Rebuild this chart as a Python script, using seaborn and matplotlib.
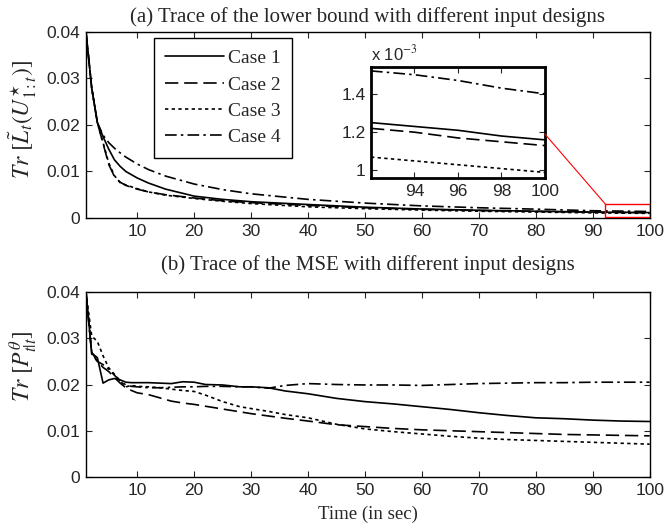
import numpy as np
import pandas as pd
import matplotlib
matplotlib.use("Agg")
import matplotlib.pyplot as plt
import seaborn as sns
from matplotlib.patches import Rectangle, ConnectionPatch

sns.set_style("ticks")
plt.rcParams['font.family'] = ['Liberation Sans', 'DejaVu Sans']
plt.rcParams['mathtext.fontset'] = 'stix'

cases = ['Case 1', 'Case 2', 'Case 3', 'Case 4']

# (a) lower bound trace
t_top = [1, 2, 3, 4, 5, 6, 7, 8, 10, 12, 15, 20, 25, 30, 40, 50, 60, 70, 80, 90, 92, 94, 96, 98, 100]
lb_case1 = [0.040, 0.028, 0.0205, 0.0175, 0.0148, 0.0125, 0.0111, 0.0100, 0.0086, 0.0075, 0.0062, 0.0047,
            0.0040, 0.0035, 0.0029, 0.00232, 0.00193, 0.00166, 0.00145, 0.00127, 0.00125, 0.00123, 0.00121,
            0.00118, 0.00116]
lb_case2 = [0.040, 0.028, 0.0205, 0.0160, 0.0115, 0.0089, 0.0077, 0.0070, 0.0062, 0.0056, 0.0050, 0.0043,
            0.0037, 0.0033, 0.0027, 0.0022, 0.00185, 0.0016, 0.00142, 0.00125, 0.00122, 0.00120, 0.00117,
            0.00115, 0.00113]
lb_case3 = [0.040, 0.028, 0.0205, 0.0162, 0.0118, 0.0091, 0.0076, 0.0071, 0.0063, 0.0056, 0.0049, 0.0042,
            0.0036, 0.0031, 0.0024, 0.0020, 0.0017, 0.00145, 0.00128, 0.00110, 0.00107, 0.00105, 0.00103,
            0.00101, 0.00099]
lb_case4 = [0.040, 0.028, 0.0205, 0.0178, 0.0162, 0.0150, 0.0140, 0.0131, 0.0116, 0.0104, 0.0090, 0.0073,
            0.0061, 0.0052, 0.0040, 0.0032, 0.0026, 0.0022, 0.0019, 0.00156, 0.00152, 0.00150, 0.00147,
            0.00143, 0.00140]

# (b) MSE trace
t_bot = [1, 2, 3, 4, 5, 6, 7, 8, 9, 10, 12, 14, 16, 18, 20, 22, 25, 28, 30, 33, 36, 40, 45, 50,
         55, 60, 65, 70, 75, 80, 85, 90, 95, 100]
mse_case1 = [0.040, 0.0268, 0.0258, 0.0203, 0.0210, 0.0213, 0.0210, 0.0205, 0.0204, 0.0204, 0.0204, 0.0203,
             0.0202, 0.0206, 0.0205, 0.0200, 0.0199, 0.0195, 0.0195, 0.0193, 0.0186, 0.0180, 0.0170, 0.0163,
             0.0158, 0.0152, 0.0146, 0.0139, 0.0133, 0.0128, 0.0126, 0.0123, 0.0121, 0.0120]
mse_case2 = [0.040, 0.0270, 0.0250, 0.0237, 0.0228, 0.0215, 0.0203, 0.0193, 0.0187, 0.0182, 0.0178, 0.0171,
             0.0164, 0.0160, 0.0157, 0.0153, 0.0147, 0.0141, 0.0137, 0.0132, 0.0127, 0.0121, 0.0113, 0.0109,
             0.0105, 0.0102, 0.0100, 0.0098, 0.0096, 0.0094, 0.0092, 0.0091, 0.0090, 0.0089]
mse_case3 = [0.040, 0.0305, 0.0293, 0.0262, 0.0236, 0.0222, 0.0208, 0.0195, 0.0198, 0.0196, 0.0195, 0.0193,
             0.0190, 0.0187, 0.0185, 0.0177, 0.0163, 0.0152, 0.0148, 0.0142, 0.0135, 0.0128, 0.0114, 0.0104,
             0.0098, 0.0093, 0.0088, 0.0084, 0.0081, 0.0079, 0.0077, 0.0075, 0.0073, 0.0071]
mse_case4 = [0.040, 0.0266, 0.0250, 0.0243, 0.0233, 0.0220, 0.0208, 0.0199, 0.0196, 0.0195, 0.0193, 0.0193,
             0.0194, 0.0195, 0.0195, 0.0196, 0.0196, 0.0195, 0.0195, 0.0192, 0.0198, 0.0202, 0.0200, 0.0199,
             0.0199, 0.0198, 0.0200, 0.0202, 0.0203, 0.0204, 0.0204, 0.0205, 0.0205, 0.0205]


def to_long(t, series):
    frames = [pd.DataFrame({'t': t, 'v': s, 'case': c}) for c, s in zip(cases, series)]
    return pd.concat(frames, ignore_index=True)


df_top = to_long(t_top, [lb_case1, lb_case2, lb_case3, lb_case4])
df_bot = to_long(t_bot, [mse_case1, mse_case2, mse_case3, mse_case4])

dashes = {'Case 1': '', 'Case 2': (8, 3.5), 'Case 3': (2, 2), 'Case 4': (7, 2.5, 1.5, 2.5)}
lw = 1.2
serif = ['Liberation Serif', 'DejaVu Serif']
tick_fs = 12.5


def style_axes(ax):
    ax.tick_params(direction='in', top=True, right=True, length=4, width=0.8, labelsize=tick_fs, pad=4)
    for sp in ax.spines.values():
        sp.set_visible(True)
        sp.set_linewidth(1.0)
        sp.set_color('black')
    ax.set_xlim(1, 100)
    ax.set_ylim(0, 0.04)
    ax.set_xticks(range(10, 101, 10))
    ax.set_yticks([0, 0.01, 0.02, 0.03, 0.04])
    ax.set_yticklabels(['0', '0.01', '0.02', '0.03', '0.04'])


fig = plt.figure(figsize=(6.64, 5.24), dpi=100)
ax1 = fig.add_axes([0.1295, 0.584, 0.849, 0.355])
ax2 = fig.add_axes([0.1295, 0.0897, 0.849, 0.353])

sns.lineplot(data=df_top, x='t', y='v', style='case', dashes=dashes, color='black',
             linewidth=lw, ax=ax1, legend=False)
style_axes(ax1)
ax1.set_xlabel('')
ax1.set_ylabel(r'$Tr\ [\tilde{L}_t(U^{\star}_{1:t})]$', fontsize=17)
ax1.yaxis.set_label_coords(-0.083, 0.53)
ax1.set_title('(a) Trace of the lower bound with different input designs', family=serif, fontsize=15, pad=7)
leg = ax1.legend(handles=ax1.get_lines()[:4], labels=cases, loc='upper left', bbox_to_anchor=(0.12, 0.968),
                 borderaxespad=0, fancybox=False, framealpha=1, edgecolor='black',
                 prop={'family': serif, 'size': 14}, handlelength=3.0, handletextpad=0.2,
                 labelspacing=0.45, borderpad=0.6)
leg.get_frame().set_linewidth(1.0)

# zoom box on the tail
ax1.add_patch(Rectangle((92.2, 0.0002), 7.8, 0.0028, fill=False, edgecolor='red', linewidth=1.0, zorder=5))

# inset
axin = fig.add_axes([0.5587, 0.660, 0.262, 0.212])
sns.lineplot(data=df_top[df_top['t'] >= 92], x='t', y='v', style='case', dashes=dashes, color='black',
             linewidth=lw, ax=axin, legend=False)
axin.set_xlim(92, 100)
axin.set_ylim(0.00096, 0.00154)
axin.set_xticks([94, 96, 98, 100])
axin.set_yticks([0.001, 0.0012, 0.0014])
axin.set_yticklabels(['1', '1.2', '1.4'])
axin.set_xlabel('')
axin.set_ylabel('')
axin.tick_params(direction='in', top=True, right=True, length=4, width=0.8, labelsize=tick_fs, pad=4)
for sp in axin.spines.values():
    sp.set_visible(True)
    sp.set_linewidth(2.0)
    sp.set_color('black')
axin.text(0.0, 1.03, r'x 10$^{-3}$', transform=axin.transAxes, fontsize=12, ha='left', va='bottom')

con = ConnectionPatch(xyA=(100, 0.00119), coordsA=axin.transData, xyB=(92.2, 0.003), coordsB=ax1.transData,
                      color='red', linewidth=0.8)
fig.add_artist(con)

sns.lineplot(data=df_bot, x='t', y='v', style='case', dashes=dashes, color='black',
             linewidth=lw, ax=ax2, legend=False)
style_axes(ax2)
ax2.set_ylabel(r'$Tr\ [P^{\theta}_{t|t}]$', fontsize=17)
ax2.yaxis.set_label_coords(-0.083, 0.6)
ax2.set_xlabel('Time (in sec)', family=serif, fontsize=13.5, labelpad=6)
ax2.set_title('(b) Trace of the MSE with different input designs', family=serif, fontsize=15, pad=16)

fig.savefig('out.png', dpi=100)
